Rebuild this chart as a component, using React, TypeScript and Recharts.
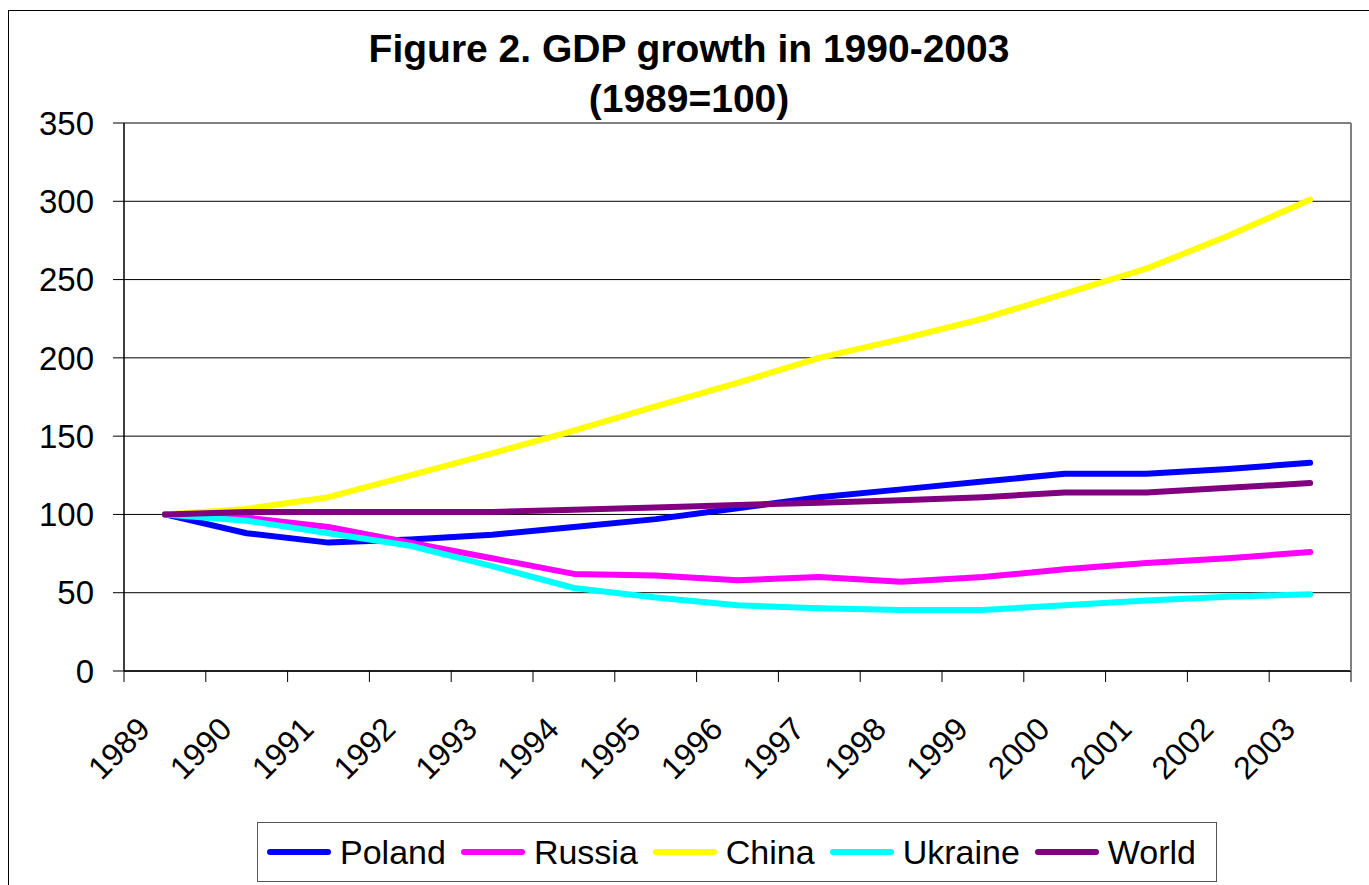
import React from "react";
import { LineChart, Line, XAxis, YAxis, CartesianGrid, ReferenceLine } from "recharts";

const years = [
  "1989", "1990", "1991", "1992", "1993", "1994", "1995", "1996",
  "1997", "1998", "1999", "2000", "2001", "2002", "2003",
];
const poland = [100, 88, 82, 84, 87, 92, 97, 104, 111, 116, 121, 126, 126, 129, 133];
const russia = [100, 98, 92, 82, 72, 62, 61, 58, 60, 57, 60, 65, 69, 72, 76];
const china = [100, 103.5, 111, 125, 139, 153.5, 169, 184, 200, 212, 225, 241, 257, 278, 301];
const ukraine = [100, 96, 88, 80, 67, 53, 47, 42, 40, 39, 39, 42, 45, 47.5, 49];
const world = [100, 101.5, 101.5, 101.5, 101.5, 103, 104.5, 106, 107.5, 109, 111, 114, 114, 117, 120];
const yTicks = [0, 50, 100, 150, 200, 250, 300, 350];

const series = [
  { key: "poland", name: "Poland", color: "#0000FF", values: poland },
  { key: "russia", name: "Russia", color: "#FF00FF", values: russia },
  { key: "china", name: "China", color: "#FFFF00", values: china },
  { key: "ukraine", name: "Ukraine", color: "#00FFFF", values: ukraine },
  { key: "world", name: "World", color: "#800080", values: world },
];

const data = years.map((year, i) => {
  const row: Record<string, string | number> = { year };
  series.forEach((s) => (row[s.key] = s.values[i]));
  return row;
});

const FONT = '"Liberation Sans", Arial, Helvetica, sans-serif';

// category labels sit under the band centre, tick marks on the band edges
function YearTick(props: any) {
  const { x, y, payload } = props;
  const half = payload.offset ?? 0;
  const last = payload.value === years[years.length - 1];
  const tx = x - 13;
  const ty = y + 60;
  return (
    <g>
      <line x1={x - half} x2={x - half} y1={y} y2={y + 11} stroke="#000" />
      {last && <line x1={x + half} x2={x + half} y1={y} y2={y + 11} stroke="#000" />}
      <text
        x={tx}
        y={ty}
        textAnchor="end"
        fontSize={32}
        fontFamily={FONT}
        fill="#000"
        transform={`rotate(-45 ${tx} ${ty})`}
      >
        {payload.value}
      </text>
    </g>
  );
}

export default function App() {
  return (
    <div
      style={{
        position: "fixed",
        left: 0,
        top: 0,
        width: 1369,
        height: 885,
        overflow: "hidden",
        background: "#fff",
        fontFamily: FONT,
      }}
    >
      {/* outer chart border */}
      <div
        style={{
          position: "absolute",
          left: 8,
          top: 10,
          width: 1400,
          height: 900,
          border: "1px solid #000",
        }}
      />

      {/* Title */}
      <div
        style={{
          position: "absolute",
          left: 8,
          top: 24,
          width: 1362,
          textAlign: "center",
          fontWeight: "bold",
          fontSize: 39,
          lineHeight: "50px",
          color: "#000",
        }}
      >
        Figure 2. GDP growth in 1990-2003
        <br />
        (1989=100)
      </div>

      {/* Chart */}
      <div style={{ position: "absolute", left: 0, top: 0 }}>
        <LineChart
          width={1369}
          height={885}
          data={data}
          margin={{ top: 123, right: 18, bottom: 134, left: 24 }}
        >
          <CartesianGrid horizontal vertical={false} stroke="#000" strokeWidth={1} />
          <XAxis
            dataKey="year"
            scale="band"
            height={80}
            axisLine={{ stroke: "#000", strokeWidth: 1.5 }}
            tickLine={false}
            tickSize={0}
            tickMargin={0}
            interval={0}
            tick={<YearTick />}
          />
          <YAxis
            width={100}
            domain={[0, 350]}
            ticks={yTicks}
            interval={0}
            axisLine={{ stroke: "#000", strokeWidth: 1.5 }}
            tickLine={{ stroke: "#000" }}
            tickSize={11}
            tickMargin={19}
            tick={{ fontSize: 33, fill: "#000", fontFamily: FONT }}
          />
          <ReferenceLine y={350} stroke="#808080" strokeWidth={2} />
          {series.map((s) => (
            <Line
              key={s.key}
              type="linear"
              dataKey={s.key}
              name={s.name}
              stroke={s.color}
              strokeWidth={6}
              strokeLinecap="round"
              strokeLinejoin="round"
              dot={false}
              activeDot={false}
              isAnimationActive={false}
            />
          ))}
        </LineChart>
      </div>

      {/* right plot border */}
      <div
        style={{
          position: "absolute",
          left: 1350,
          top: 123,
          width: 2,
          height: 548,
          background: "#808080",
        }}
      />

      {/* Legend */}
      <div
        style={{
          position: "absolute",
          left: 257,
          top: 822,
          height: 58,
          display: "flex",
          alignItems: "center",
          paddingLeft: 9,
          paddingRight: 20,
          border: "1px solid #555",
          fontSize: 34,
          color: "#000",
        }}
      >
        {series.map((s, i) => (
          <div
            key={s.key}
            style={{
              display: "flex",
              alignItems: "center",
              marginRight: i === series.length - 1 ? 0 : 15,
            }}
          >
            <span
              style={{
                display: "inline-block",
                width: 64,
                height: 6,
                borderRadius: 3,
                background: s.color,
                marginRight: 9,
              }}
            />
            <span>{s.name}</span>
          </div>
        ))}
      </div>
    </div>
  );
}
